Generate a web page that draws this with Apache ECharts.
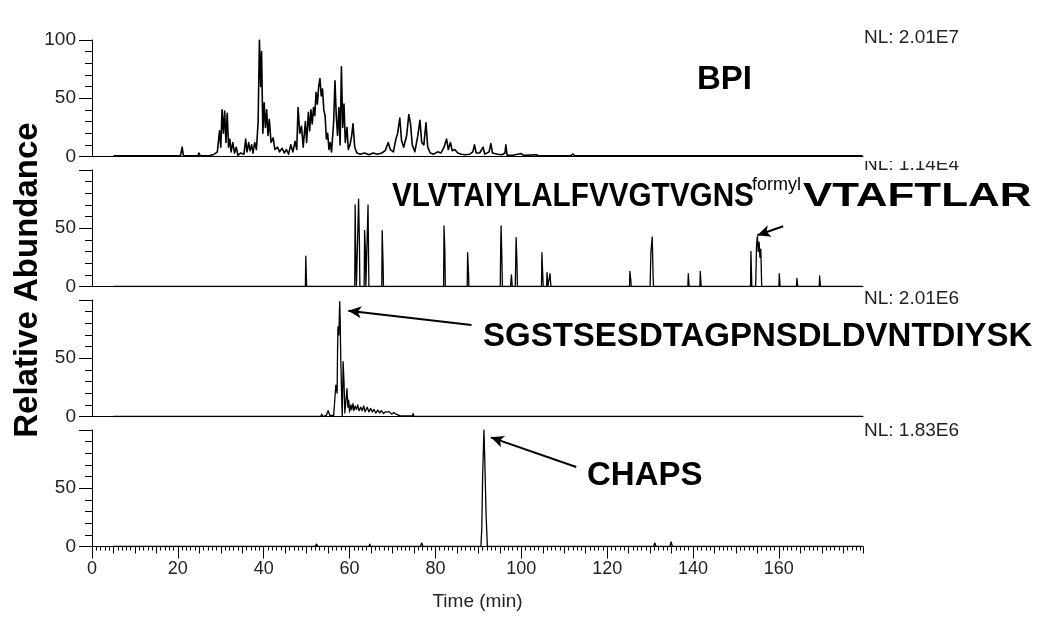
<!DOCTYPE html>
<html>
<head>
<meta charset="utf-8">
<script src="https://cdn.jsdelivr.net/npm/echarts/dist/echarts.min.js"></script>
<style>
  html, body { margin: 0; padding: 0; background: #fff; }
  #chart { width: 1050px; height: 622px; }
</style>
</head>
<body>
<div id="chart"></div>
<script>
// time (min), relative abundance (%)
const bpiPoints = [
  [5, 0.5], [20.6, 0.5], [21, 8], [21.3, 0.5], [24.7, 0.5], [24.9, 3], [25.2, 0.5], [27.5, 0.8], [28.5, 2],
  [29.2, 4], [29.7, 22], [30, 8], [30.3, 40], [30.6, 20], [30.9, 39], [31.2, 12], [31.5, 37], [31.8, 8],
  [32.1, 15], [32.4, 4], [32.8, 12], [33.2, 3], [33.6, 8], [34, 1], [34.6, 3], [35.4, 2], [35.8, 15],
  [36.1, 4], [36.5, 12], [36.8, 5], [37.2, 10], [37.5, 3], [37.9, 12], [38.3, 6], [38.7, 30], [39, 100],
  [39.3, 60], [39.5, 90], [39.8, 20], [40.1, 46], [40.4, 25], [40.7, 40], [41, 18], [41.3, 32], [41.7, 12],
  [42.2, 16], [42.6, 6], [43.2, 8], [43.7, 4], [44.3, 7], [44.8, 3], [45.3, 6], [45.8, 2], [46.3, 10],
  [46.8, 4], [47.3, 13], [47.7, 6], [48, 42], [48.4, 20], [48.8, 26], [49.2, 8], [49.7, 30], [50, 12],
  [50.4, 38], [50.7, 22], [51, 40], [51.3, 28], [51.6, 42], [51.9, 35], [52.2, 55], [52.5, 45], [52.8, 60],
  [53.1, 67], [53.4, 52], [53.7, 58], [54, 40], [54.3, 35], [54.6, 15], [54.9, 20], [55.2, 6], [55.5, 12],
  [55.8, 4], [56.3, 30], [56.6, 65], [56.9, 35], [57.2, 18], [57.5, 42], [57.8, 10], [58.1, 77], [58.4, 25],
  [58.7, 45], [59, 12], [59.4, 25], [59.7, 6], [60.1, 10], [60.5, 18], [60.8, 28], [61.2, 8], [61.7, 3],
  [62.5, 2], [63.5, 3], [64.5, 1.5], [65.5, 3], [66.5, 2], [67.5, 3], [68.3, 5], [69, 12], [69.5, 6],
  [70.2, 4], [70.8, 15], [71.2, 20], [71.7, 33], [72.1, 14], [72.6, 8], [73.3, 18], [73.8, 36], [74.2, 28],
  [74.6, 10], [75.2, 4], [75.9, 18], [76.4, 31], [76.8, 12], [77.3, 10], [77.8, 29], [78.2, 8], [78.8, 3],
  [79.6, 2], [80.5, 4], [81.3, 3], [82, 8], [82.6, 15], [83, 6], [83.5, 12], [83.9, 5], [84.5, 6],
  [85.2, 3], [86, 2], [87, 1.5], [88, 2], [88.7, 4], [89.1, 10], [89.5, 3], [90.3, 3], [91.1, 8],
  [91.5, 2], [92.5, 4], [92.9, 11], [93.3, 3], [94.5, 2], [95.5, 1.5], [96.2, 3], [96.4, 10], [96.7, 1],
  [98, 1], [100, 2.5], [100.5, 1], [103.5, 1.5], [104, 0.7], [111.5, 0.8], [112, 2], [112.5, 0.5],
  [130, 0.5], [130.1, 2], [130.2, 0.5], [137.8, 0.5], [137.9, 1.5], [138, 0.5], [150, 0.5], [150.1, 1.5],
  [150.2, 0.5], [165, 0.5], [165.1, 1.2], [165.2, 0.5], [179.5, 0.5]
]
const vlvtPoints = [
  [5, 0], [49.7, 0], [49.8, 26], [49.9, 13], [50, 0],
  [61.2, 0], [61.3, 70], [61.4, 38], [61.6, 0], [62, 0], [62.1, 75], [62.3, 36], [62.4, 0],
  [63.4, 0], [63.5, 48], [63.7, 30], [63.8, 0], [64.2, 0], [64.3, 70], [64.5, 0],
  [67.5, 0], [67.6, 48], [67.8, 20], [67.9, 0], [81.9, 0], [82, 52], [82.2, 30], [82.3, 0],
  [87.4, 0], [87.5, 29], [87.7, 12], [87.8, 0], [95.1, 0], [95.2, 34], [95.3, 52], [95.5, 20], [95.6, 0],
  [97.5, 0], [97.7, 10], [97.9, 0], [98.6, 0], [98.8, 42], [99, 20], [99.1, 0],
  [104.7, 0], [104.8, 29], [105, 10], [105.1, 0], [105.9, 0], [106, 12], [106.2, 0], [106.6, 0], [106.7, 11], [106.9, 0],
  [125.2, 0], [125.3, 13], [125.5, 6], [125.6, 0], [130, 0], [130.2, 30], [130.5, 42.5], [130.7, 10], [130.8, 0],
  [138.8, 0], [138.9, 11], [139.1, 0], [141.6, 0], [141.7, 13], [141.9, 0],
  [153.4, 0], [153.5, 30], [153.7, 0], [154.6, 0], [154.8, 36], [155, 43], [155.2, 30], [155.4, 38],
  [155.6, 25], [155.8, 32], [156, 0], [160, 0], [160.1, 11], [160.3, 0], [164.1, 0], [164.2, 7], [164.4, 0],
  [169.4, 0], [169.5, 9], [169.7, 0], [179.5, 0]
]
const sgstPoints = [
  [5, 0], [53.3, 0], [53.5, 2], [53.8, 0], [54.6, 1], [55, 5], [55.4, 1], [55.8, 2], [56.3, 1], [56.6, 0],
  [56.8, 27], [57.1, 20], [57.2, 56], [57.3, 77], [57.5, 70], [57.7, 98.5], [57.8, 85], [57.9, 60], [58, 42],
  [58.2, 10], [58.3, 0], [58.5, 47], [58.7, 30], [58.9, 3], [59.2, 2], [59.4, 24], [59.6, 8], [59.8, 14],
  [60, 4], [60.3, 10], [60.5, 6], [60.8, 11], [61, 5], [61.3, 9], [61.6, 6], [61.9, 10], [62.2, 5],
  [62.6, 8], [62.9, 5], [63.3, 9], [63.6, 4], [64.1, 8], [64.5, 4], [64.9, 7], [65.3, 4], [65.7, 6],
  [66.1, 3], [66.6, 5.5], [67, 3], [67.4, 5], [67.9, 2.5], [68.4, 4], [68.8, 2.5], [69.3, 4], [69.8, 2],
  [70.3, 3.5], [70.8, 2], [71.2, 3.5], [71.8, 0.5], [72.5, 0.5], [74.6, 0.5], [74.8, 2.5], [75, 0], [179.5, 0]
]
const chapsPoints = [
  [5, 0], [52, 0], [52.3, 2], [52.6, 0], [59.3, 0], [59.5, 1.2], [59.7, 0], [64.5, 0], [64.7, 2], [64.9, 0],
  [73.8, 0], [74, 1], [74.2, 0], [76.5, 0], [76.8, 3], [77.1, 0], [90.6, 0], [90.8, 16], [91, 61],
  [91.3, 100], [91.5, 74], [91.8, 27], [92.1, 0], [110, 0], [130.8, 0], [131.1, 3], [131.4, 0],
  [134.6, 0], [134.9, 4], [135.2, 0], [179.5, 0]
]
const nlLabels = ['NL: 2.01E7', 'NL: 1.14E4', 'NL: 2.01E6', 'NL: 1.83E6']
// arrows: [from, to] in time / abundance of each panel
const panelArrows = [
  null,
  [[161, 51.7], [155, 44]],
  [[88.4, 78.6], [59.7, 90.8]],
  [[112.8, 68.3], [92.9, 93.7]]
]
const traces = [bpiPoints, vlvtPoints, sgstPoints, chapsPoints]

const panelTops = [40, 170, 300, 430]
const xMax = 179.6
const font = '"Liberation Sans", Arial, sans-serif'

const grids = []
const xAxes = []
const yAxes = []
const series = []
panelTops.forEach((top, i) => {
  const last = i === panelTops.length - 1
  grids.push({ left: 92, top: top, width: 771, height: 116.5 })
  xAxes.push({
    type: 'value', gridIndex: i, min: 0, max: xMax, interval: 20,
    axisLine: { show: true, lineStyle: { color: '#000', width: 1 } },
    axisTick: { show: last, length: 12, lineStyle: { color: '#000' } },
    axisLabel: { show: last, fontSize: 18, color: '#222', margin: 14, showMaxLabel: false, fontFamily: font },
    splitLine: { show: false },
    name: last ? 'Time (min)' : '',
    nameLocation: 'middle', nameGap: 46,
    nameTextStyle: { fontSize: 19, color: '#222', fontFamily: font }
  })
  yAxes.push({
    type: 'value', gridIndex: i, min: 0, max: 100, interval: 50,
    axisLine: { show: true, lineStyle: { color: '#000', width: 1 } },
    axisTick: { show: true, length: 13, lineStyle: { color: '#000' } },
    minorTick: { show: true, splitNumber: 5, length: 7, lineStyle: { color: '#000' } },
    axisLabel: { fontSize: 19, color: '#222', margin: 16, showMaxLabel: i === 0, fontFamily: font },
    splitLine: { show: false }
  })
  const s = {
    type: 'line', xAxisIndex: i, yAxisIndex: i, data: traces[i],
    showSymbol: false, silent: true, smooth: false,
    lineStyle: { color: '#000', width: i === 0 ? 1.6 : 1.3, join: 'round' }
  }
  if (panelArrows[i]) {
    s.markLine = {
      silent: true, symbol: ['none', 'arrow'], symbolSize: [9, 13],
      label: { show: false },
      lineStyle: { color: '#000', width: 2, type: 'solid' },
      data: [[{ coord: panelArrows[i][0] }, { coord: panelArrows[i][1] }]]
    }
  }
  series.push(s)
})
// extra ticks on the time axis: every 5 min and every 1 min
xAxes.push({
  type: 'value', gridIndex: 3, min: 0, max: xMax, interval: 5, position: 'bottom',
  axisLine: { show: false },
  axisTick: { show: true, length: 7, lineStyle: { color: '#000' } },
  minorTick: { show: true, splitNumber: 5, length: 4, lineStyle: { color: '#000' } },
  axisLabel: { show: false },
  splitLine: { show: false }
})

const nlY = [38, 165, 299, 431]
const graphic = []
nlLabels.forEach((t, i) => {
  graphic.push({
    type: 'text', x: 864, y: nlY[i],
    style: { text: t, font: '19px ' + font, fill: '#222', textVerticalAlign: 'middle', verticalAlign: 'middle' }
  })
})
// the top of the second NL label is hidden behind the panel above
graphic.push({ type: 'rect', shape: { x: 864, y: 146, width: 110, height: 15 }, style: { fill: '#fff' } })

const bigFont = 'bold 33px ' + font
const big = (text, x, y, scaleX) => ({
  type: 'text', x: x, y: y, scaleX: scaleX || 1,
  style: { text: text, font: bigFont, fill: '#000', textVerticalAlign: 'middle', verticalAlign: 'middle' }
})
graphic.push(big('BPI', 697, 80))
graphic.push(big('VLVTAIYLALFVVGTVGNS', 392, 197, 0.9))
graphic.push({
  type: 'text', x: 752, y: 185,
  style: { text: 'formyl', font: '18px ' + font, fill: '#000', textVerticalAlign: 'middle', verticalAlign: 'middle' }
})
graphic.push(big('VTAFTLAR', 803, 197, 1.33))
graphic.push(big('SGSTSESDTAGPNSDLDVNTDIYSK', 483, 337))
graphic.push(big('CHAPS', 587, 476))
graphic.push({
  type: 'text', x: 28, y: 280, rotation: Math.PI / 2,
  style: {
    text: 'Relative Abundance', font: bigFont, fill: '#000',
    textAlign: 'center', align: 'center', textVerticalAlign: 'middle', verticalAlign: 'middle'
  }
})

const myChart = echarts.init(document.getElementById('chart'))
myChart.setOption({
  animation: false,
  backgroundColor: '#fff',
  grid: grids,
  xAxis: xAxes,
  yAxis: yAxes,
  series: series,
  graphic: graphic
})
</script>
</body>
</html>
